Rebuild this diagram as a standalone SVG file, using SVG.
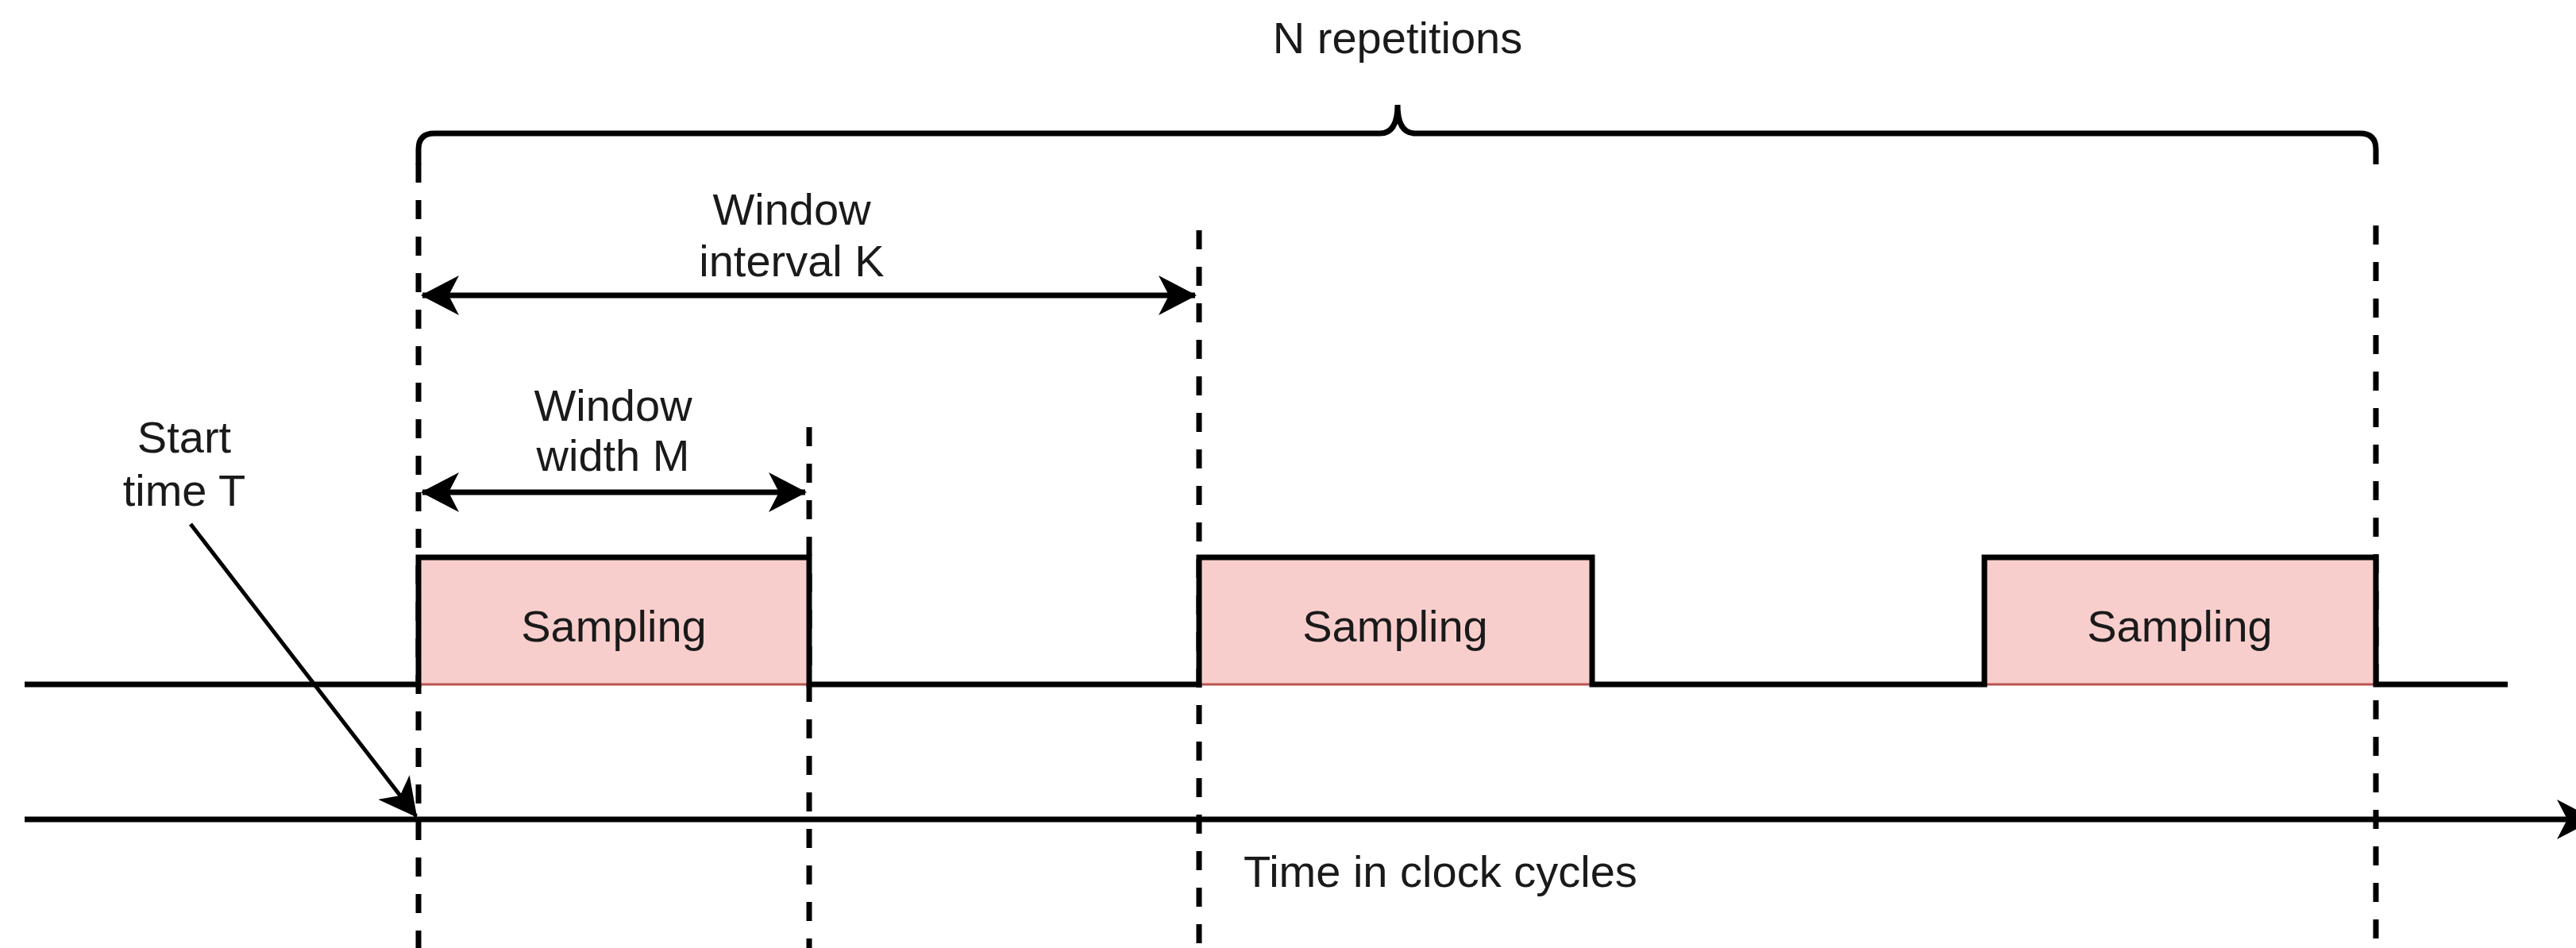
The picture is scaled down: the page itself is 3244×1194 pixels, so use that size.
<svg xmlns="http://www.w3.org/2000/svg" width="3244" height="1194" viewBox="0 0 3244 1194">
<style>
text{font-family:"Liberation Sans",Arial,sans-serif;font-size:56px;fill:#1a1a1a;text-anchor:middle}
.dash{stroke:#000;stroke-width:7;stroke-dasharray:24 22;fill:none}
.ln{stroke:#000;stroke-width:7;fill:none}
.box{fill:#f8cecc;stroke:#b85450;stroke-width:3}
</style>
<defs>
<marker id="ah" viewBox="0 0 48 50" refX="46" refY="25" markerWidth="48" markerHeight="50" markerUnits="userSpaceOnUse" orient="auto-start-reverse">
<path d="M0,0 L48,25 L0,50 L13,25 Z" fill="#000"/>
</marker>
</defs>
<rect width="3244" height="1194" fill="#fff"/>
<g id="guides">
<line class="dash" x1="527" y1="206" x2="527" y2="1194"/>
<line class="dash" x1="1019" y1="538" x2="1019" y2="1194"/>
<line class="dash" x1="1510" y1="290" x2="1510" y2="1194"/>
<line class="dash" x1="2992" y1="284" x2="2992" y2="1194"/>
</g>
<g id="sampling1"><rect class="box" x="527" y="702" width="492" height="160"/><text x="773" y="808">Sampling</text></g>
<g id="sampling2"><rect class="box" x="1510" y="702" width="495" height="160"/><text x="1757" y="808">Sampling</text></g>
<g id="sampling3"><rect class="box" x="2499" y="702" width="493" height="160"/><text x="2745" y="808">Sampling</text></g>
<g id="signal"><path class="ln" d="M31,862 H527 V702 H1019 V862 H1510 V702 H2005 V862 H2499 V702 H2992 V862 H3158"/></g>
<g id="bracket"><path class="ln" d="M527,207 V188 Q527,168 547,168 H1738 Q1760,168 1760,132 Q1760,168 1782,168 H2972 Q2992,168 2992,188 V207"/><text x="1760" y="67">N repetitions</text></g>
<g id="interval-label"><text x="997" y="283">Window</text><text x="997" y="348">interval K</text></g>
<g id="width-label"><text x="772" y="530">Window</text><text x="772" y="593">width M</text></g>
<g id="start-label"><text x="232" y="570">Start</text><text x="232" y="637">time T</text></g>
<g id="axis-label"><text x="1566" y="1117" style="text-anchor:start">Time in clock cycles</text></g>
<g id="connectors">
<line class="ln" x1="31" y1="1032" x2="3266" y2="1032" marker-end="url(#ah)"/>
<line class="ln" x1="532" y1="372" x2="1505" y2="372" marker-start="url(#ah)" marker-end="url(#ah)"/>
<line class="ln" x1="532" y1="620" x2="1014" y2="620" marker-start="url(#ah)" marker-end="url(#ah)"/>
<line x1="240" y1="660" x2="524" y2="1028" stroke="#000" stroke-width="5" marker-end="url(#ah)"/>
</g>
</svg>
